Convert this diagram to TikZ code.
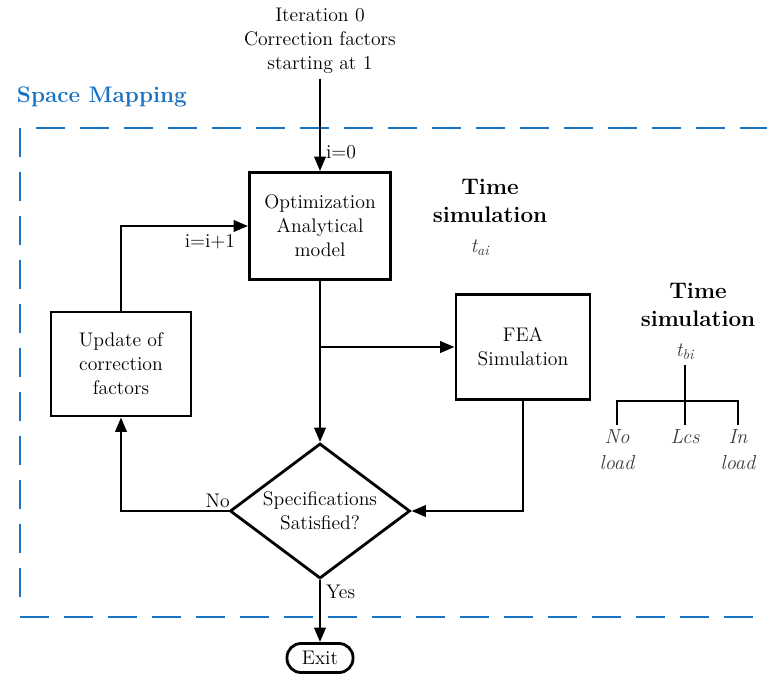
\documentclass[tikz,border=0pt]{standalone}
\usepackage{tikz}
\usetikzlibrary{shapes.geometric,arrows.meta}
\definecolor{mapblue}{RGB}{25,115,195}
\definecolor{notegray}{RGB}{60,60,60}

\begin{document}
\begin{tikzpicture}[x=0.025cm,y=-0.025cm,
  txt/.style={font=\fontsize{14}{17}\selectfont, align=center},
  blk/.style={txt, draw, line width=2pt, inner sep=2pt},
  lnk/.style={line width=2pt},
  arr/.style={lnk, -{Triangle[length=3.6mm,width=2.8mm]}},
  head/.style={font=\fontsize{16}{20.5}\selectfont\bfseries, align=center},
  note/.style={font=\fontsize{14.5}{18.5}\selectfont\itshape, text=notegray, align=center},
  frame/.style={mapblue, line width=2pt, dash pattern=on 0.725cm off 0.375cm}]
  \useasboundingbox (0,0) rectangle (767,675);

  % dashed frame of the mapping loop
  \draw[frame] (36,128) -- (767,128);
  \draw[frame] (20,128) -- (20,605);
  \draw[frame] (20,617) -- (767,617);
  \node[head, mapblue, anchor=west] (title) at (12,97) {Space Mapping};

  % flow blocks
  \node[txt] (start) at (320,41) {Iteration 0\\Correction factors\\starting at 1};
  \node[blk, minimum width=3.525cm, minimum height=2.675cm] (opt) at (320,226) {Optimization\\Analytical\\model};
  \node[blk, minimum width=3.35cm, minimum height=2.625cm] (fea) at (523,347) {FEA\\Simulation};
  \node[blk, minimum width=3.5cm, minimum height=2.6cm] (upd) at (121,364) {Update of\\correction\\factors};
  \node[txt, draw, line width=2pt, shape=diamond, aspect=1.33, minimum width=4.5cm, minimum height=3.375cm, inner sep=0pt] (spec) at (320,511) {Specifications\\Satisfied?};
  \node[blk, rounded corners=3.5mm, minimum width=1.65cm, minimum height=0.725cm, inner sep=1pt] (exit) at (320,658) {Exit};

  % time simulation notes
  \node[head] (ta) at (490,201) {Time\\simulation};
  \node[note] (tai) at (480,248) {t\textsubscript{ai}};
  \node[head] (tb) at (698,305) {Time\\simulation};
  \node[note] (tbi) at (685,352) {t\textsubscript{bi}};
  \coordinate (hub) at (685,401);
  \node[note, anchor=north] (noload) at (617,425) {No\\load};
  \node[note, anchor=north] (lcs) at (685,425) {Lcs};
  \node[note, anchor=north] (inload) at (738,425) {In\\load};
  \draw[lnk] (tbi.south) -- (hub);
  \draw[lnk] (noload.north) -- ++(0,-24) -| (inload.north);
  \draw[lnk] (lcs.north) -- (hub);

  % connectors
  \draw[arr] (start.south) -- node[pos=0.8, right, txt] {i=0} (opt.north);
  \draw[arr] (opt) -- (spec);
  \draw[arr] (opt.south |- fea.west) -- (fea.west);
  \draw[arr] (fea.south) |- (spec.east);
  \draw[arr] (spec.west) -| node[pos=0, anchor=south east, inner sep=1pt, xshift=0.1cm, txt] {No} (upd.south);
  \draw[arr] (upd.north) |- node[pos=0.85, below, inner sep=5pt, txt] {i=i+1} (opt.west);
  \draw[arr] (spec.south) -- node[pos=0.2, right, txt] {Yes} (exit.north);
\end{tikzpicture}
\end{document}
